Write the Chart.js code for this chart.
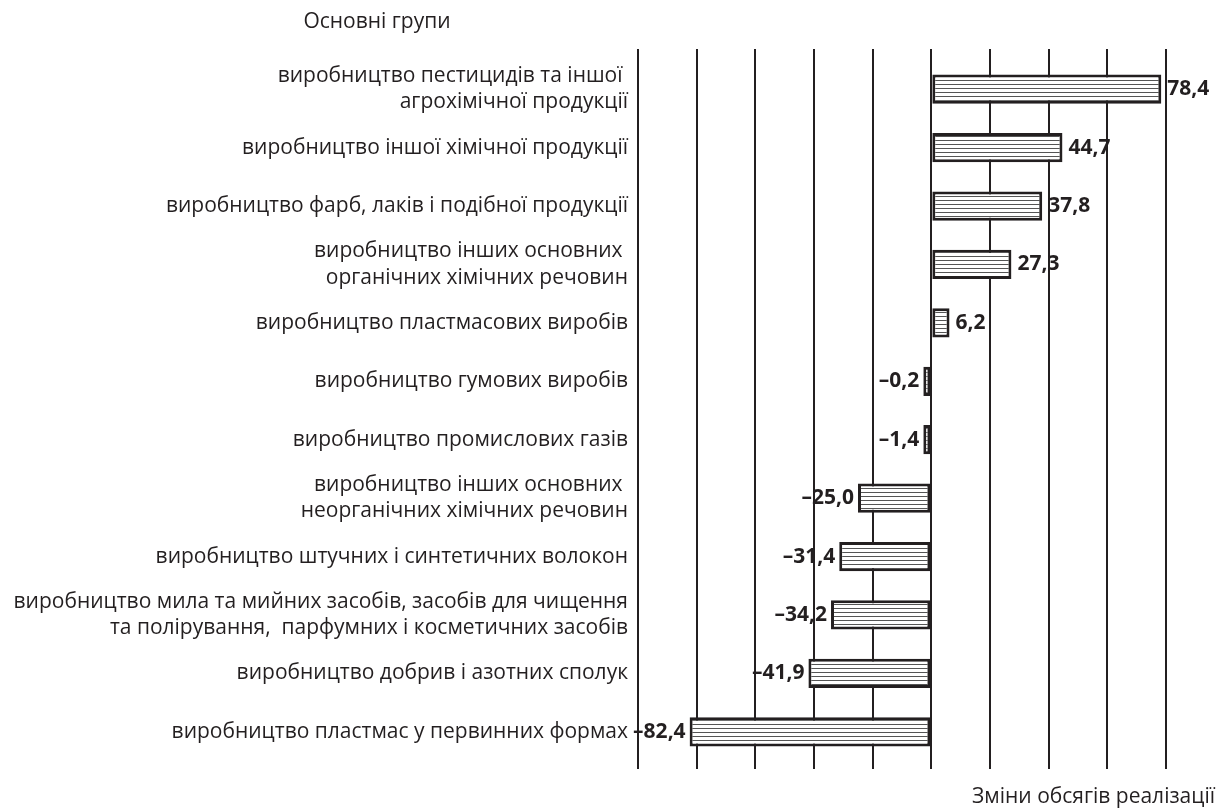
<!DOCTYPE html>
<html>
<head>
<meta charset="utf-8">
<script src="https://cdn.jsdelivr.net/npm/chart.js@4"></script>
<style>
  html, body { margin: 0; padding: 0; background: #fff; }
  #wrap { width: 1217px; height: 810px; }
</style>
</head>
<body>
<div id="wrap"><canvas id="myChart" width="1217" height="810"></canvas></div>
<script>

// categories (top to bottom), multi-line ones are arrays
var categories = [
	['виробництво пестицидів та іншої ', 'агрохімічної продукції'],
	'виробництво іншої хімічної продукції',
	'виробництво фарб, лаків і подібної продукції',
	['виробництво інших основних ', 'органічних хімічних речовин'],
	'виробництво пластмасових виробів',
	'виробництво гумових виробів',
	'виробництво промислових газів',
	['виробництво інших основних ', 'неорганічних хімічних речовин'],
	'виробництво штучних і синтетичних волокон',
	['виробництво мила та мийних засобів, засобів для чищення', 'та полірування,  парфумних і косметичних засобів'],
	'виробництво добрив і азотних сполук',
	'виробництво пластмас у первинних формах'
];

var changes = [78.4, 44.7, 37.8, 27.3, 6.2, -0.2, -1.4, -25.0, -31.4, -34.2, -41.9, -82.4];

var groupsTitle = 'Основні групи';
var axisTitle = 'Зміни обсягів реалізації';

var ink = '#231f20';
var labelFont = '"Open Sans", "Noto Sans", sans-serif';

// horizontal hatch for the bars
function hatch(){
	var c = document.createElement('canvas');
	c.width = 8; c.height = 4;
	var g = c.getContext('2d');
	g.fillStyle = '#fff';
	g.fillRect(0, 0, 8, 4);
	g.fillStyle = '#555';
	g.fillRect(0, 0, 8, 1);
	return g.createPattern(c, 'repeat');
}

function fmt(v){
	var s = Math.abs(v).toFixed(1).replace('.', ',');
	return v < 0 ? '\u2013' + s : s;
}

// value labels next to bar ends + the two free-standing titles
var textPlugin = {
	id: 'texts',
	afterDatasetsDraw: function(chart){
		var ctx = chart.ctx;
		var meta = chart.getDatasetMeta(0);
		ctx.save();
		ctx.fillStyle = ink;
		ctx.font = 'bold 21px ' + labelFont;
		ctx.textBaseline = 'middle';
		meta.data.forEach(function(bar, i){
			var v = changes[i];
			if (v >= 0) {
				ctx.textAlign = 'left';
				ctx.fillText(fmt(v), Math.max(bar.x, bar.base) + 6, bar.y);
			} else {
				ctx.textAlign = 'right';
				ctx.fillText(fmt(v), Math.min(bar.x, bar.base) - 4, bar.y);
			}
		});
		var area = chart.chartArea;
		ctx.font = '21px ' + labelFont;
		ctx.textAlign = 'center';
		ctx.fillText(groupsTitle, area.left - 261, 22);
		ctx.textAlign = 'right';
		ctx.fillText(axisTitle, chart.width - 2, 797);
		ctx.restore();
	}
};

var ctx = document.getElementById('myChart');
var chartInstance = new Chart(ctx, {
	type: 'bar',
	data: {
		labels: categories,
		datasets: [{
			data: changes,
			backgroundColor: hatch(),
			borderColor: ink,
			borderWidth: 3,
			borderSkipped: false,
			barPercentage: 0.5,
			categoryPercentage: 1,
			minBarLength: 8
		}]
	},
	options: {
		indexAxis: 'y',
		responsive: false,
		animation: false,
		layout: { padding: { top: 49, right: 51, bottom: 41, left: 0 } },
		plugins: {
			legend: { display: false },
			tooltip: { enabled: false }
		},
		scales: {
			x: {
				position: 'bottom',
				min: -100, max: 80,
				ticks: { display: false, stepSize: 20 },
				grid: { color: ink, lineWidth: 2, tickLength: 8 },
				border: { display: false },
				afterFit: function(s){ s.height = 8; }
			},
			xTop: {
				axis: 'x',
				position: 'top',
				min: -100, max: 80,
				ticks: { display: false, stepSize: 20 },
				grid: { color: ink, lineWidth: 2, tickLength: 11, drawOnChartArea: false },
				border: { display: false },
				afterFit: function(s){ s.height = 11; }
			},
			y: {
				ticks: {
					color: ink,
					padding: 10,
					font: { family: labelFont, size: 21, lineHeight: 1.25 }
				},
				grid: { display: false, drawTicks: false },
				border: { display: false },
				afterFit: function(s){ s.width = 638; }
			}
		}
	},
	plugins: [textPlugin]
});

</script>
</body>
</html>
